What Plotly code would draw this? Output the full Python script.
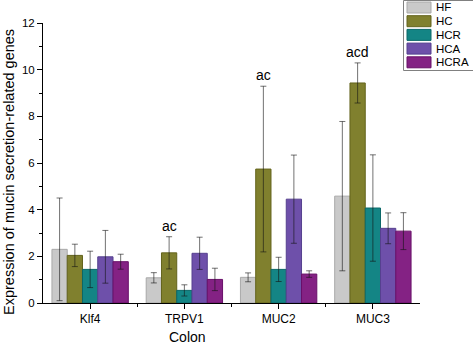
import plotly.graph_objects as go

# Genes measured in colon tissue
genes = ["Klf4", "TRPV1", "MUC2", "MUC3"]
groups = ["HF", "HC", "HCR", "HCA", "HCRA"]

# Mean relative expression per group
hf_mean = [2.30, 1.08, 1.10, 4.58]
hc_mean = [2.04, 2.15, 5.74, 9.43]
hcr_mean = [1.44, 0.54, 1.44, 4.07]
hca_mean = [1.98, 2.13, 4.45, 3.20]
hcra_mean = [1.77, 1.01, 1.24, 3.08]

# Standard deviations
hf_err = [2.20, 0.22, 0.19, 3.20]
hc_err = [0.48, 0.69, 3.55, 0.86]
hcr_err = [0.78, 0.24, 0.52, 2.28]
hca_err = [1.13, 0.69, 1.89, 0.66]
hcra_err = [0.32, 0.48, 0.14, 0.79]

# Significance letters shown above the HC bars
hc_sig = ["", "ac", "ac", "acd"]

means = [hf_mean, hc_mean, hcr_mean, hca_mean, hcra_mean]
errs = [hf_err, hc_err, hcr_err, hca_err, hcra_err]

fills = ["#c9c9c9", "#80802e", "#148585", "#6e50aa", "#842284"]
edges = ["#a9a9a9", "#63631c", "#0c6868", "#56408f", "#691069"]

FONT = "Liberation Sans, Arial, sans-serif"
W, H = 473, 346
L, R, T, B = 43, 53, 23, 43
PW, PH = W - L - R, H - T - B


def px_x(p):
    return (p - L) / PW


def px_y(p):
    return (H - B - p) / PH


x_pos = list(range(len(genes)))
BARGAP = 0.19
bar_w = (1 - BARGAP) / len(groups)

fig = go.Figure()
for name, m, e, fc, lc in zip(groups, means, errs, fills, edges):
    fig.add_trace(go.Bar(
        name=name, x=x_pos, y=m,
        marker=dict(color=fc, line=dict(color=lc, width=1)),
        error_y=dict(type="data", array=e, visible=True,
                     color="rgba(20,20,20,0.6)", thickness=1, width=3),
        showlegend=False,
    ))

# Significance letters over the HC bars
hc_idx = groups.index("HC")
offset = (hc_idx - (len(groups) - 1) / 2) * bar_w
for xi, (m, e, s) in enumerate(zip(hc_mean, hc_err, hc_sig)):
    if s:
        fig.add_annotation(x=xi + offset, y=m + e, text=s, showarrow=False,
                           yanchor="bottom", yshift=1,
                           font=dict(family=FONT, size=14, color="black"))

# Legend box drawn with shapes
shapes = [dict(type="rect", xref="paper", yref="paper",
               x0=px_x(403.5), x1=px_x(480), y0=px_y(70.5), y1=px_y(0.5),
               line=dict(color="#808080", width=1), fillcolor="white", layer="above")]
row_centers = [7.5, 21.2, 34.9, 48.6, 62.3]
for name, fc, lc, cy in zip(groups, fills, edges, row_centers):
    shapes.append(dict(type="rect", xref="paper", yref="paper",
                       x0=px_x(407), x1=px_x(431), y0=px_y(cy + 5.5), y1=px_y(cy - 5.5),
                       line=dict(color=lc, width=1), fillcolor=fc, layer="above"))
    fig.add_annotation(xref="paper", yref="paper", x=px_x(434), y=px_y(cy),
                       text=name, showarrow=False, xanchor="left", yanchor="middle",
                       font=dict(family=FONT, size=11.5, color="black"))

# Axis titles
fig.add_annotation(xref="paper", yref="paper", x=px_x(187.5), y=px_y(337),
                   text="Colon", showarrow=False, xanchor="center", yanchor="middle",
                   font=dict(family=FONT, size=14, color="black"))
fig.add_annotation(xref="paper", yref="paper", x=px_x(8.5), y=px_y(172.5),
                   text="Expression of mucin secretion-related genes", textangle=-90,
                   showarrow=False, xanchor="center", yanchor="middle",
                   font=dict(family=FONT, size=14.5, color="black"))

fig.update_layout(
    width=W, height=H,
    margin=dict(l=L, r=R, t=T, b=B, autoexpand=False),
    paper_bgcolor="white", plot_bgcolor="white",
    barmode="group", bargap=BARGAP, bargroupgap=0,
    font=dict(family=FONT, color="black"),
    shapes=shapes,
    xaxis=dict(
        range=[-0.5, 3.5], tickmode="array", tickvals=x_pos, ticktext=genes,
        showline=True, linecolor="black", linewidth=1, showgrid=False, zeroline=False,
        ticks="outside", ticklen=5, tickcolor="black",
        tickfont=dict(family=FONT, size=12),
        minor=dict(tickmode="array", tickvals=[0.5, 1.5, 2.5], ticks="outside",
                   ticklen=3, tickcolor="black", showgrid=False),
    ),
    yaxis=dict(
        range=[0, 12], tickmode="array", tickvals=[0, 2, 4, 6, 8, 10, 12],
        showline=True, linecolor="black", linewidth=1, showgrid=False, zeroline=False,
        ticks="outside", ticklen=5, tickcolor="black",
        tickfont=dict(family=FONT, size=11.5),
        minor=dict(tickmode="array", tickvals=[1, 3, 5, 7, 9, 11], ticks="outside",
                   ticklen=3, tickcolor="black", showgrid=False),
    ),
)

fig.write_html("out.html")
